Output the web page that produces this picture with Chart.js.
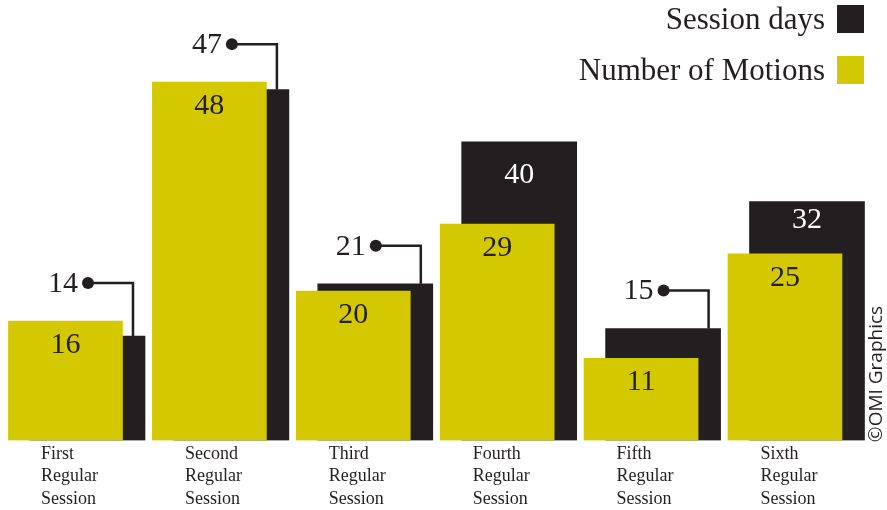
<!DOCTYPE html>
<html>
<head>
<meta charset="utf-8">
<script src="https://cdn.jsdelivr.net/npm/chart.js@4/dist/chart.umd.min.js"></script>
<style>
  html, body { margin: 0; padding: 0; background: #fff; }
  #wrap { width: 887px; height: 510px; position: relative; }
</style>
</head>
<body>
<div id="wrap"><canvas id="sessions"></canvas></div>
<script>
var sessionNames = [
  ["First", "Regular", "Session"],
  ["Second", "Regular", "Session"],
  ["Third", "Regular", "Session"],
  ["Fourth", "Regular", "Session"],
  ["Fifth", "Regular", "Session"],
  ["Sixth", "Regular", "Session"]
];
var sessionDays = [14, 47, 21, 40, 15, 32];
var motions = [16, 48, 20, 29, 11, 25];

var DARK = "#231f20";
var YELLOW = "#d4c800";
var SERIF = "'Liberation Serif', 'Times New Roman', serif";

// black bars sit a little to the right of the yellow ones
var shift = 0.153;

// numbers on the bars, leader lines for the short black bars
var barLabels = {
  id: "barLabels",
  afterDatasetsDraw: function (chart) {
    var c = chart.ctx;
    var days = chart.getDatasetMeta(0).data;
    var mots = chart.getDatasetMeta(1).data;
    c.save();
    c.font = "30px " + SERIF;
    c.textBaseline = "middle";
    for (var i = 0; i < mots.length; i++) {
      var y = mots[i], b = days[i];
      c.fillStyle = DARK;
      c.textAlign = "center";
      c.fillText(motions[i], y.x, y.y + 24);

      if (b.y < y.y - 45) {
        c.fillStyle = "#fff";
        c.fillText(sessionDays[i], b.x, (b.y + y.y) / 2 - 8);
      } else {
        var lineX = b.x + b.width / 2 - 12;
        var topY = Math.min(b.y, y.y) - 38;
        var dotX = lineX - 45;
        c.strokeStyle = DARK;
        c.lineWidth = 2.5;
        c.beginPath();
        c.moveTo(dotX, topY);
        c.lineTo(lineX, topY);
        c.lineTo(lineX, b.y);
        c.stroke();
        c.fillStyle = DARK;
        c.beginPath();
        c.arc(dotX, topY, 6, 0, Math.PI * 2);
        c.fill();
        c.textAlign = "right";
        c.fillText(sessionDays[i], dotX - 10, topY + 1);
      }
    }
    c.restore();
  }
};

// legend top right, swatches on the right of the text, plus credit line
var sideNotes = {
  id: "sideNotes",
  afterDraw: function (chart) {
    var c = chart.ctx;
    var boxX = chart.width - 50;
    c.save();
    c.font = "31px " + SERIF;
    c.textAlign = "right";
    c.textBaseline = "middle";
    chart.data.datasets.forEach(function (ds, k) {
      var cy = 19 + k * 51;
      c.fillStyle = ds.backgroundColor;
      c.fillRect(boxX, cy - 14, 27, 28);
      c.fillStyle = DARK;
      c.fillText(ds.label, boxX - 12, cy + 2);
    });

    c.translate(877, 374);
    c.rotate(-Math.PI / 2);
    c.font = "19px 'Open Sans', 'Liberation Sans', sans-serif";
    c.textAlign = "center";
    c.fillStyle = DARK;
    c.fillText("\u00a9OMI Graphics", 0, 0);
    c.restore();
  }
};

new Chart(document.getElementById("sessions"), {
  type: "bar",
  data: {
    datasets: [
      {
        label: "Session days",
        data: sessionDays.map(function (v, i) { return { x: i + shift, y: v }; }),
        backgroundColor: DARK,
        barThickness: 115,
        grouped: false,
        order: 1
      },
      {
        label: "Number of Motions",
        data: motions.map(function (v, i) { return { x: i, y: v }; }),
        backgroundColor: YELLOW,
        barThickness: 114,
        grouped: false,
        order: 0
      }
    ]
  },
  options: {
    responsive: true,
    maintainAspectRatio: false,
    animation: false,
    layout: { padding: { top: 0, left: 0, right: 0, bottom: -3 } },
    plugins: {
      legend: { display: false },
      tooltip: { enabled: false }
    },
    scales: {
      x: {
        type: "linear",
        offset: false,
        min: -0.455,
        max: 5.709,
        grid: { display: false, drawTicks: false, offset: false },
        border: { display: false },
        afterBuildTicks: function (axis) {
          axis.ticks = sessionNames.map(function (n, i) { return { value: i - 0.17 }; });
        },
        afterFit: function (axis) {
          axis.paddingLeft = 0;
          axis.paddingRight = 0;
        },
        ticks: {
          align: "start",
          padding: 2.5,
          maxRotation: 0,
          autoSkip: false,
          color: DARK,
          font: { family: SERIF, size: 18, lineHeight: 1.25 },
          callback: function (value, index) { return sessionNames[index]; }
        }
      },
      y: {
        display: false,
        min: 0,
        max: 59
      }
    }
  },
  plugins: [barLabels, sideNotes]
});
</script>
</body>
</html>
